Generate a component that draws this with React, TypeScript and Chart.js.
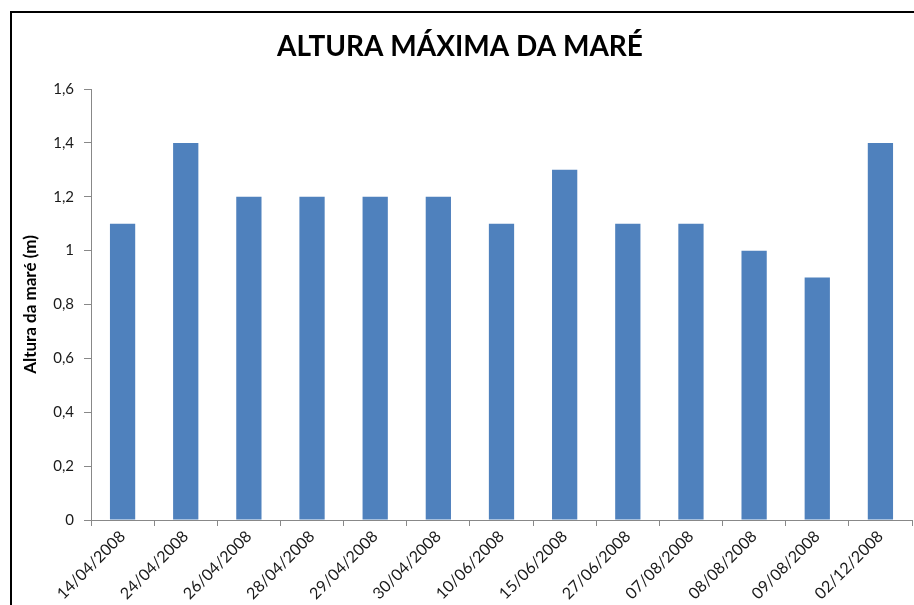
import React, { useEffect, useRef } from "react";
import { Chart, registerables } from "chart.js";

Chart.register(...registerables);

const chartTitle = "ALTURA MÁXIMA DA MARÉ";
const yAxisTitle = "Altura da maré (m)";
const categories = [
  "14/04/2008",
  "24/04/2008",
  "26/04/2008",
  "28/04/2008",
  "29/04/2008",
  "30/04/2008",
  "10/06/2008",
  "15/06/2008",
  "27/06/2008",
  "07/08/2008",
  "08/08/2008",
  "09/08/2008",
  "02/12/2008",
];
const heights = [1.1, 1.4, 1.2, 1.2, 1.2, 1.2, 1.1, 1.3, 1.1, 1.1, 1.0, 0.9, 1.4];
const yMin = 0;
const yMax = 1.6;
const yStep = 0.2;

const framePlugin = {
  id: "frame",
  afterDraw(chart: any) {
    const ctx = chart.ctx;
    ctx.save();
    ctx.strokeStyle = "#000";
    ctx.lineWidth = 2;
    ctx.beginPath();
    ctx.moveTo(11, 605);
    ctx.lineTo(11, 12);
    ctx.lineTo(914, 12);
    ctx.stroke();
    ctx.restore();
  },
};

export default function App() {
  const ref = useRef<HTMLCanvasElement | null>(null);
  useEffect(() => {
    if (!ref.current) return;
    const chart = new Chart(ref.current, {
      type: "bar",
      data: {
        labels: categories,
        datasets: [
          {
            data: heights,
            backgroundColor: "#4F81BD",
            borderWidth: 0,
            categoryPercentage: 1,
            barPercentage: 0.4,
          },
        ],
      },
      plugins: [framePlugin],
      options: {
        animation: false,
        responsive: false,
        maintainAspectRatio: false,
        layout: { padding: { left: 8, right: 2, top: 0, bottom: 0 } },
        plugins: {
          legend: { display: false },
          tooltip: { enabled: false },
          title: {
            display: true,
            text: chartTitle,
            color: "#000",
            font: { family: "Lato", size: 28, weight: "bold" },
            padding: { top: 30, bottom: 25.4 },
          },
        },
        scales: {
          x: {
            offset: true,
            grid: {
              display: true,
              drawOnChartArea: false,
              drawTicks: true,
              tickLength: 6,
              color: "#888",
              offset: true,
            },
            border: { display: true, color: "#888", width: 1 },
            ticks: {
              color: "#1a1a1a",
              font: { family: "Lato", size: 16 },
              minRotation: 45,
              maxRotation: 45,
              autoSkip: false,
              padding: 1,
            },
            afterFit(scale: any) {
              scale.height = 85;
            },
          },
          y: {
            min: yMin,
            max: yMax,
            grid: {
              display: true,
              drawOnChartArea: false,
              drawTicks: true,
              tickLength: 7,
              color: "#888",
            },
            border: { display: true, color: "#888", width: 1 },
            ticks: {
              stepSize: yStep,
              color: "#1a1a1a",
              font: { family: "Lato", size: 15 },
              padding: 10,
              callback: (v: any) => {
                const n = Math.round(Number(v) * 10) / 10;
                return String(n).replace(".", ",");
              },
            },
            title: {
              display: true,
              text: yAxisTitle,
              color: "#000",
              font: { family: "Lato", size: 17, weight: "bold" },
              padding: { top: 12.3, bottom: 0 },
            },
            afterFit(scale: any) {
              scale.width = 83;
            },
          },
        },
      },
    });
    return () => chart.destroy();
  }, []);
  return (
    <div style={{ position: "absolute", left: 0, top: 0, width: 914, height: 605, background: "#fff" }}>
      <canvas ref={ref} width={914} height={605} style={{ display: "block" }} />
    </div>
  );
}
